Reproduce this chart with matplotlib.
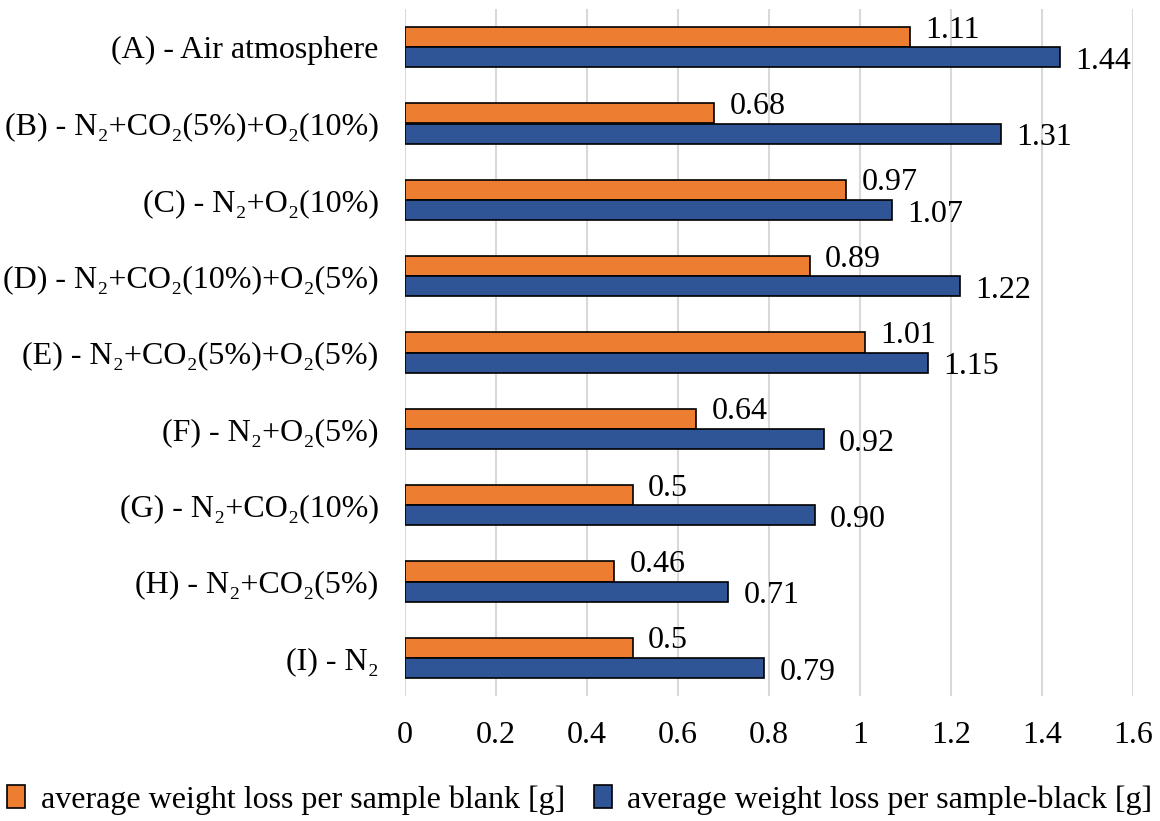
import matplotlib
matplotlib.use("Agg")
import matplotlib.pyplot as plt
import numpy as np

plt.rcParams['font.family'] = ['Liberation Serif', 'DejaVu Serif']

categories = ["(A) - Air atmosphere",
              "(B) - N₂+CO₂(5%)+O₂(10%)",
              "(C) - N₂+O₂(10%)",
              "(D) - N₂+CO₂(10%)+O₂(5%)",
              "(E) - N₂+CO₂(5%)+O₂(5%)",
              "(F) - N₂+O₂(5%)",
              "(G) - N₂+CO₂(10%)",
              "(H) - N₂+CO₂(5%)",
              "(I) - N₂"]
blank = [1.11, 0.68, 0.97, 0.89, 1.01, 0.64, 0.5, 0.46, 0.5]
black = [1.44, 1.31, 1.07, 1.22, 1.15, 0.92, 0.90, 0.71, 0.79]
blank_labels = ["1.11", "0.68", "0.97", "0.89", "1.01", "0.64", "0.5", "0.46", "0.5"]
black_labels = ["1.44", "1.31", "1.07", "1.22", "1.15", "0.92", "0.90", "0.71", "0.79"]
xticks = [0, 0.2, 0.4, 0.6, 0.8, 1, 1.2, 1.4, 1.6]
xtick_labels = ["0", "0.2", "0.4", "0.6", "0.8", "1", "1.2", "1.4", "1.6"]

orange = "#ED7D31"
blue = "#2F5597"
fs = 23

fig = plt.figure(figsize=(11.6, 8.21), dpi=100)
ax = fig.add_axes([405/1160, 1-696/821, (1133-405)/1160, (696-9)/821])

n = len(categories)
y = np.arange(n)
h = 0.265
ax.barh(y - h/2, blank, height=h, color=orange, edgecolor="black", linewidth=1.2,
        label="average weight loss per sample blank [g]", zorder=3)
ax.barh(y + h/2, black, height=h, color=blue, edgecolor="black", linewidth=1.2,
        label="average weight loss per sample-black [g]", zorder=3)

for i in range(n):
    ax.annotate(blank_labels[i], (blank[i], y[i] - h/2), xytext=(11, 5),
                textcoords="offset points", ha="left", va="center", fontsize=fs)
    ax.annotate(black_labels[i], (black[i], y[i] + h/2), xytext=(11, -3),
                textcoords="offset points", ha="left", va="center", fontsize=fs)

ax.set_ylim(n - 0.5, -0.5)
ax.set_xlim(0, 1.6)
ax.set_xticks(xticks)
ax.set_xticklabels(xtick_labels, fontsize=fs)
ax.set_yticks(y)
ax.set_yticklabels(categories, fontsize=fs)
ax.tick_params(axis='both', length=0)
ax.tick_params(axis='y', pad=19)
ax.tick_params(axis='x', pad=18)
ax.grid(axis='x', color="#D9D9D9", linewidth=1.5, zorder=0)
for s in ax.spines.values():
    s.set_visible(False)

handles, labels = ax.get_legend_handles_labels()
fig.legend(handles, labels, loc="center", bbox_to_anchor=(0.5, 1-800/821), ncol=2,
           frameon=False, fontsize=fs, handlelength=0.55, handleheight=0.75,
           handletextpad=0.5, columnspacing=0.9)

fig.savefig("out.png", dpi=100)
